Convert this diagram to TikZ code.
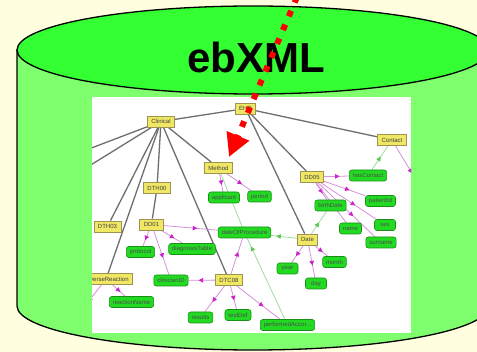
\documentclass[tikz,border=0pt]{standalone}
\usepackage{fontspec}
\setmainfont{Liberation Sans}
\usetikzlibrary{arrows.meta,decorations.markings}
\definecolor{paper}{HTML}{FFFFDF}
\definecolor{drumbody}{HTML}{80FF6E}
\definecolor{drumtop}{HTML}{33FF33}
\definecolor{typefill}{HTML}{F0E764}
\definecolor{typeline}{HTML}{9C9450}
\definecolor{elemfill}{HTML}{22DA22}
\definecolor{elemline}{HTML}{189018}
\definecolor{treeline}{HTML}{6E6E6E}
\definecolor{partline}{HTML}{D890D8}
\definecolor{parthead}{HTML}{CC22CC}
\definecolor{refline}{HTML}{A0DCA0}
\definecolor{refhead}{HTML}{55C855}
\definecolor{pointer}{HTML}{FF0000}
\pgfdeclarelayer{background}
\pgfsetlayers{background,main}
\tikzset{
  typebox/.style={draw=typeline, fill=typefill, line width=0.8pt, inner xsep=4pt,
    inner ysep=0pt, minimum height=11pt, text=black!75, font=\fontsize{6}{6.5}\selectfont},
  elembox/.style={draw=elemline, fill=elemfill, line width=0.6pt, rounded corners=2.5pt,
    inner xsep=3.5pt, inner ysep=0pt, minimum height=11pt, minimum width=21pt,
    text=black!70, font=\fontsize{6}{6.5}\selectfont},
  tree/.style={draw=treeline, line width=1.3pt},
  part/.style={draw=partline, line width=0.8pt,
    decoration={markings, mark=at position 0.62 with {\arrow[parthead]{Triangle[length=4.5pt,width=4.5pt]}}},
    postaction={decorate}},
  ref/.style={draw=refline, line width=0.8pt,
    decoration={markings, mark=at position #1 with {\arrow[refhead]{Triangle[length=4.5pt,width=4.5pt]}}},
    postaction={decorate}},
  ref/.default=0.6,
  plainref/.style={draw=refline, line width=0.8pt},
}
\begin{document}
\begin{tikzpicture}[x=1pt,y=-1pt]
\useasboundingbox (0,0) rectangle (477,352);
\begin{pgfonlayer}{background}
  \fill[paper] (0,0) rectangle (477,352);
  \begin{scope}
    \clip (0,0) rectangle (477,352);
    % drum body and lid
    \path[fill=drumbody, draw=black, line width=1.3pt]
      (17,50) -- (17,306) arc[start angle=180, end angle=360, x radius=236pt, y radius=44pt]
      -- (489,50) -- cycle;
    \path[fill=drumtop, draw=black, line width=1.3pt]
      (253,50) ellipse[x radius=236pt, y radius=44pt];
  \end{scope}
  % white panel holding the schema graph
  \fill[white] (92,97) rectangle (411,333);
\end{pgfonlayer}

\node[font=\fontsize{42}{42}\selectfont\bfseries, inner sep=0pt] (title) at (256,57.5) {ebXML};

\begin{scope}
  \clip (92,97) rectangle (411,333);
  % type boxes
  \node[typebox] (ss) at (245.5,108.5) {EHR};
  \node[typebox] (clinical) at (161,121.5) {Clinical};
  \node[typebox] (contact) at (392,140) {Contact};
  \node[typebox] (method) at (218.5,168) {Method};
  \node[typebox] (dth00) at (157,188) {DTH00};
  \node[typebox] (dd05) at (312,177) {DD05};
  \node[typebox] (dd01) at (151.5,224.5) {DD01};
  \node[typebox] (dth03) at (107.5,226.5) {DTH03};
  \node[typebox] (date) at (307.5,239.5) {Date};
  \node[typebox] (dtc08) at (229,280) {DTC08};
  \node[typebox, anchor=east] (adverse) at (133,279) {adverseReaction};
  % element boxes
  \node[elembox] (applicant) at (224,197.5) {applicant};
  \node[elembox] (period) at (259.5,196.5) {period};
  \node[elembox] (hascontact) at (368,175.5) {hasContact};
  \node[elembox] (patientid) at (380.5,201) {patientId};
  \node[elembox] (birthdate) at (330.5,205.5) {birthDate};
  \node[elembox] (name) at (350.5,228.5) {name};
  \node[elembox] (sex) at (385,225) {sex};
  \node[elembox] (surname) at (381,242.5) {surname};
  \node[elembox] (month) at (334.5,262) {month};
  \node[elembox] (year) at (287.5,268.5) {year};
  \node[elembox] (day) at (316,283.5) {day};
  \node[elembox] (protocol) at (140.5,252) {protocol};
  \node[elembox] (diagtable) at (192,249) {diagnosisTable};
  \node[elembox] (dateofproc) at (244.5,232.5) {dateOfProcedure};
  \node[elembox] (clinicianid) at (171,280.5) {clinicianID};
  \node[elembox] (results) at (200.5,317.5) {results};
  \node[elembox] (testdef) at (238,315) {testDef};
  \node[elembox] (performed) at (287.5,325) {performedAccor...};
  \node[elembox] (reactionname) at (131.5,302) {reactionName};
  % links leaving the panel
  \coordinate (offL1) at (60,160);
  \coordinate (offL2) at (60,184);
  \coordinate (offR) at (422,190);
  \coordinate (offLa) at (80,312);
\end{scope}

\begin{pgfonlayer}{background}
  \begin{scope}
    \clip (92,97) rectangle (411,333);
    % containment tree
    \path[tree] (clinical) -- (ss);
    \path[tree] (ss) -- (contact);
    \path[tree] (ss) -- (dd05);
    \path[tree] (ss) -- (date);
    \path[tree] (clinical) -- (offL1);
    \path[tree] (clinical) -- (offL2);
    \path[tree] (clinical) -- (dth03);
    \path[tree] (clinical) -- (adverse);
    \path[tree] (clinical) -- (dth00);
    \path[tree] (clinical) -- (dtc08);
    \path[tree] (clinical) -- (method);
    \path[tree] (dth00) -- (dd01);
    % element parts
    \path[part] (method) -- (applicant);
    \path[part] (method) -- (period);
    \path[part] (dd05) -- (hascontact);
    \path[part] (dd05) -- (patientid);
    \path[part] (dd05) -- (birthdate);
    \path[part] (dd05) -- (name);
    \path[part] (dd05) -- (sex);
    \path[part] (dd05) -- (surname);
    \path[part] (contact) -- (offR);
    \path[part] (date) -- (year);
    \path[part] (date) -- (day);
    \path[part] (date) -- (month);
    \path[part] (dd01) -- (dateofproc);
    \path[part] (dd01) -- (protocol);
    \path[part] (dd01) -- (diagtable);
    \path[part] (dd01) -- (clinicianid);
    \path[part] (dtc08) -- (dateofproc);
    \path[part] (dtc08) -- (clinicianid);
    \path[part] (dtc08) -- (results);
    \path[part] (dtc08) -- (testdef);
    \path[part] (dtc08) -- (performed);
    \path[part] (adverse) -- (reactionname);
    \path[part] (adverse) -- (offLa);
    % type references
    \path[ref=0.55] (hascontact) -- (contact);
    \path[ref=0.5] (date) -- (birthdate);
    \path[ref=0.8] (date) -- (dateofproc);
    \path[plainref] (method) -- (dateofproc);
    \path[ref=0.9] (performed) -- (dateofproc);
  \end{scope}
\end{pgfonlayer}

% pointer into the registry
\coordinate (pstart) at (297,-3);
\coordinate (ptip) at (229,157);
\draw[pointer, line width=6pt, dash pattern=on 6pt off 9pt,
  -{Triangle[length=23pt,width=23pt]}] (pstart) -- (ptip);
\end{tikzpicture}
\end{document}
